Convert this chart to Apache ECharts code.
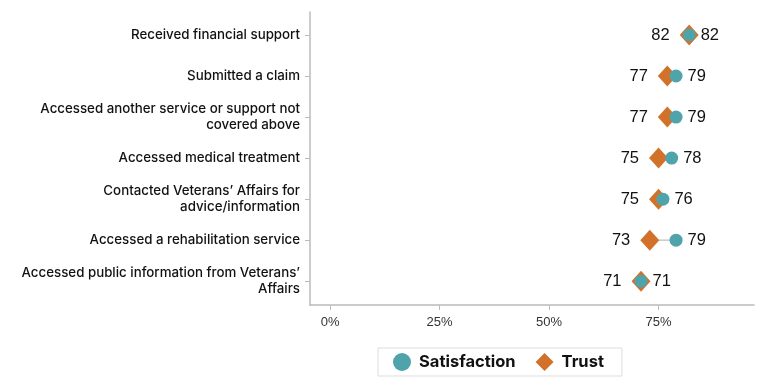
<!DOCTYPE html>
<html>
<head>
<meta charset="utf-8">
<script src="https://cdn.jsdelivr.net/npm/echarts@6/dist/echarts.min.js"></script>
<style>
html,body{margin:0;padding:0;background:#fff;}
#chart{width:768px;height:392px;}
</style>
</head>
<body>
<div id="chart"></div>
<script>
const categories = [
  "Received financial support",
  "Submitted a claim",
  "Accessed another service or support not\ncovered above",
  "Accessed medical treatment",
  "Contacted Veterans\u2019 Affairs for\nadvice/information",
  "Accessed a rehabilitation service",
  "Accessed public information from Veterans\u2019\nAffairs"
];
const satisfaction = [82, 79, 79, 78, 76, 79, 71];
const trust = [82, 77, 77, 75, 75, 73, 71];
const xTicks = [0, 25, 50, 75];

const TEAL = '#4FA3AA';
const ORANGE = '#D2722A';
const idx = categories.map((c, i) => i);

const chart = echarts.init(document.getElementById('chart'));
chart.setOption({
  animation: false,
  grid: {left: 310, right: 14, top: 12, bottom: 87},
  xAxis: {
    type: 'value', min: -4.6, max: 96.8,
    splitLine: {show: false},
    axisLine: {show: true, onZero: false, lineStyle: {color: '#bbbbbb', width: 1.5}},
    axisTick: {show: true, customValues: xTicks, length: 5, lineStyle: {color: '#bbbbbb'}},
    axisLabel: {customValues: xTicks, formatter: '{value}%', fontSize: 13, color: '#333', margin: 11, fontFamily: 'Liberation Sans'}
  },
  yAxis: {
    type: 'value', min: -0.56, max: 6.58, inverse: true,
    splitLine: {show: false},
    axisLine: {show: true, onZero: false, lineStyle: {color: '#bbbbbb', width: 1.5}},
    axisTick: {show: true, customValues: idx, length: 5, lineStyle: {color: '#bbbbbb'}},
    axisLabel: {
      customValues: idx,
      formatter: v => categories[v],
      fontSize: 13.3, fontWeight: 500, color: '#111', margin: 10, lineHeight: 16, align: 'right',
      fontFamily: 'Inter'
    }
  },
  legend: {
    left: 378, top: 348,
    padding: [5, 18, 5, 15],
    borderColor: '#dddddd', borderWidth: 1,
    itemWidth: 18, itemHeight: 18, itemGap: 20,
    textStyle: {fontSize: 16.5, fontWeight: 'bold', color: '#111', fontFamily: 'Inter', padding: [0, 0, 0, 3]},
    data: [{name: 'Satisfaction', icon: 'circle'}, {name: 'Trust', icon: 'diamond'}]
  },
  series: [
    {
      type: 'custom',
      name: 'connector',
      z: 1,
      silent: true,
      data: idx.map(i => [trust[i], satisfaction[i], i]),
      renderItem: (params, api) => {
        const p1 = api.coord([api.value(0), api.value(2)]);
        const p2 = api.coord([api.value(1), api.value(2)]);
        return {type: 'line', shape: {x1: p1[0], y1: p1[1], x2: p2[0], y2: p2[1]},
          style: {stroke: '#c8c8c8', lineWidth: 1.5}};
      }
    },
    {
      type: 'scatter', name: 'Trust', z: 2,
      symbol: 'diamond', symbolSize: [19, 21],
      itemStyle: {color: ORANGE, opacity: 1},
      data: idx.map(i => [trust[i], i]),
      label: {show: true, position: 'left', distance: 10, formatter: p => p.value[0],
        fontSize: 16.5, color: '#111', fontFamily: 'Liberation Sans'}
    },
    {
      type: 'scatter', name: 'Satisfaction', z: 3,
      symbol: 'circle', symbolSize: 13,
      itemStyle: {color: TEAL, opacity: 1},
      data: idx.map(i => [satisfaction[i], i]),
      label: {show: true, position: 'right', distance: 5, formatter: p => p.value[0],
        fontSize: 16.5, color: '#111', fontFamily: 'Liberation Sans'}
    }
  ]
});
</script>
</body>
</html>
